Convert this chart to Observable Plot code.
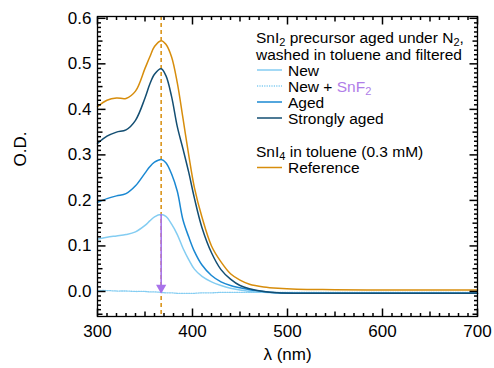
<!DOCTYPE html>
<html>
<head>
<meta charset="utf-8">
<script src="https://cdn.jsdelivr.net/npm/d3@7"></script>
<script src="https://cdn.jsdelivr.net/npm/@observablehq/plot@0.6"></script>
<style>
  html, body { margin: 0; padding: 0; background: #fff; }
  #chart { width: 494px; height: 368px; }
</style>
</head>
<body>
<div id="chart"></div>
<script>
// Wavelengths (nm)
const lam = [300,310,320,330,340,350,355,360,367,372,378,384,390,396,402,410,420,430,440,450,460,475,490,510,550,600,650,700];
// Optical density per series
const odNew = [0.115,0.119,0.122,0.125,0.131,0.145,0.155,0.164,0.169,0.165,0.148,0.125,0.095,0.070,0.049,0.033,0.021,0.013,0.007,0.003,0.000,-0.002,-0.003,-0.004,-0.004,-0.004,-0.004,-0.004];
const odNewSnF2 = [0.002,0.002,0.001,0.001,0.000,0.000,-0.001,-0.001,-0.002,-0.003,-0.003,-0.004,-0.004,-0.004,-0.004,-0.003,-0.003,-0.002,-0.002,-0.002,-0.002,-0.002,-0.002,-0.002,-0.002,-0.002,-0.002,-0.002];
const odAged = [0.196,0.204,0.210,0.215,0.232,0.260,0.274,0.284,0.290,0.283,0.258,0.220,0.157,0.120,0.088,0.058,0.035,0.021,0.013,0.008,0.004,0.000,-0.003,-0.004,-0.004,-0.004,-0.004,-0.004];
const odStrong = [0.325,0.341,0.350,0.355,0.376,0.425,0.455,0.477,0.489,0.474,0.428,0.362,0.313,0.262,0.205,0.140,0.085,0.048,0.027,0.013,0.006,0.000,-0.003,-0.004,-0.004,-0.004,-0.004,-0.004];
const odRef = [0.406,0.420,0.425,0.424,0.440,0.490,0.515,0.538,0.551,0.543,0.515,0.458,0.380,0.300,0.228,0.163,0.100,0.065,0.039,0.025,0.016,0.010,0.007,0.005,0.004,0.003,0.003,0.003];

const seriesNames = ["New", "New + SnF2", "Aged", "Strongly aged", "Reference"];
const seriesValues = [odNew, odNewSnF2, odAged, odStrong, odRef];
const peakLam = 367;
const newPeak = 0.169;
const arrowEnd = 0.010;

const xTicks = [300,400,500,600,700];
const yTicks = [0.0,0.1,0.2,0.3,0.4,0.5,0.6];
const xDomain = [300, 700];
const yDomain = [-0.055, 0.604];

const colors = {
  "New": "#84cdf2",
  "New + SnF2": "#84cdf2",
  "Aged": "#1a88d2",
  "Strongly aged": "#134e72",
  "Reference": "#d78d0c"
};
const purple = "#a872ea";

const rows = [];
seriesNames.forEach((s, i) => {
  lam.forEach((l, j) => rows.push({series: s, lam: l, od: seriesValues[i][j]}));
});

const W = 494, H = 368, mL = 97, mR = 17, mT = 16, mB = 52;
const iw = W - mL - mR, ih = H - mT - mB;
const FONT = "'Liberation Sans', Arial, Helvetica, sans-serif";

// tick lengths expressed in data units (pixels -> data span)
const xPerPx = (xDomain[1] - xDomain[0]) / iw;
const yPerPx = (yDomain[1] - yDomain[0]) / ih;

const xMid = d3.range(350, 700, 100);
const xMinor = d3.range(300, 701, 10).filter(v => v % 50 !== 0);
const yAll = d3.range(-50, 601, 10).map(v => v / 1000);
const yMid = d3.range(-50, 601, 100).map(v => v / 1000);
const yMinor = yAll.filter(v => Math.round(v * 1000) % 50 !== 0);

const tickSegs = [];
function xTickSet(vals, len) {
  vals.forEach(v => {
    tickSegs.push({x1: v, x2: v, y1: yDomain[0], y2: yDomain[0] + len * yPerPx});
    tickSegs.push({x1: v, x2: v, y1: yDomain[1], y2: yDomain[1] - len * yPerPx});
  });
}
function yTickSet(vals, len) {
  vals.forEach(v => {
    tickSegs.push({y1: v, y2: v, x1: xDomain[0], x2: xDomain[0] + len * xPerPx});
    tickSegs.push({y1: v, y2: v, x1: xDomain[1], x2: xDomain[1] - len * xPerPx});
  });
}
xTickSet(xTicks, 8); xTickSet(xMid, 5); xTickSet(xMinor, 3.5);
yTickSet(yTicks, 8); yTickSet(yMid, 5); yTickSet(yMinor, 3.5);

const chart = Plot.plot({
  width: W, height: H,
  marginLeft: mL, marginRight: mR, marginTop: mT, marginBottom: mB,
  style: {fontFamily: FONT, background: "#fff", color: "#000"},
  x: {domain: xDomain},
  y: {domain: yDomain},
  marks: [
    Plot.ruleX([peakLam], {stroke: "#d78d0c", strokeWidth: 1.5, strokeDasharray: "4,3"}),
    Plot.line(rows.filter(d => d.series === "New + SnF2"), {x: "lam", y: "od", stroke: colors["New + SnF2"], strokeWidth: 1.3, strokeDasharray: "1.2,1.2", curve: "catmull-rom"}),
    ...["New", "Aged", "Strongly aged", "Reference"].map(s =>
      Plot.line(rows.filter(d => d.series === s), {x: "lam", y: "od", stroke: colors[s], strokeWidth: 1.5, curve: "catmull-rom"})
    ),
    Plot.ruleX([{x: peakLam, y1: newPeak, y2: arrowEnd}], {x: "x", y1: "y1", y2: "y2", stroke: purple, strokeWidth: 1.6}),
    Plot.dot([{x: peakLam, y: 0.008}], {x: "x", y: "y", symbol: "triangle", r: 3.8, fill: purple, stroke: "none", rotate: 180}),
    Plot.frame({stroke: "#000", strokeWidth: 1.3}),
    Plot.link(tickSegs, {x1: "x1", y1: "y1", x2: "x2", y2: "y2", stroke: "#000", strokeWidth: 1.5}),
    Plot.axisX({ticks: xTicks, tickSize: 0, tickPadding: 8, fontSize: 17, label: null, tickFormat: d => String(d)}),
    Plot.axisY({ticks: yTicks, tickSize: 0, tickPadding: 6, fontSize: 17, label: null, tickFormat: d3.format(".1f")}),
    Plot.text(["O.D."], {frameAnchor: "left", dx: -77, rotate: -90, fontSize: 17, text: d => d}),
    Plot.text(["λ (nm)"], {frameAnchor: "bottom", dy: 43, fontSize: 17, text: d => d})
  ]
});

const svg = d3.select(chart);

// Legend
const lg = svg.append("g")
  .attr("font-family", FONT)
  .attr("font-size", 15.5)
  .attr("text-anchor", "start")
  .attr("fill", "#000");

function addText(x, y, parts) {
  const t = lg.append("text").attr("x", x).attr("y", y).attr("text-anchor", "start");
  let shifted = false;
  parts.forEach(p => {
    const ts = t.append("tspan").text(p.t);
    if (p.fill) ts.attr("fill", p.fill);
    if (p.sub) { ts.attr("font-size", 11).attr("dy", 3); shifted = true; }
    else if (shifted) { ts.attr("dy", -3); shifted = false; }
  });
}

addText(256, 43, [{t: "SnI"}, {t: "2", sub: true}, {t: " precursor aged under N"}, {t: "2", sub: true}, {t: ","}]);
addText(256, 59.5, [{t: "washed in toluene and filtered"}]);

const items = [
  {name: "New", y: 75.5, parts: [{t: "New"}]},
  {name: "New + SnF2", y: 91.5, parts: [{t: "New + "}, {t: "SnF", fill: "#b07de8"}, {t: "2", sub: true, fill: "#b07de8"}]},
  {name: "Aged", y: 107.5, parts: [{t: "Aged"}]},
  {name: "Strongly aged", y: 123.5, parts: [{t: "Strongly aged"}]},
  {name: "Reference", y: 173, parts: [{t: "Reference"}]}
];
items.forEach(it => {
  lg.append("line")
    .attr("x1", 257).attr("x2", 282)
    .attr("y1", it.y - 5.5).attr("y2", it.y - 5.5)
    .attr("stroke", colors[it.name])
    .attr("stroke-width", 1.5)
    .attr("stroke-dasharray", it.name === "New + SnF2" ? "1.2,1.2" : null);
  addText(288, it.y, it.parts);
});
addText(256, 157, [{t: "SnI"}, {t: "4", sub: true}, {t: " in toluene (0.3 mM)"}]);

document.getElementById("chart").appendChild(chart);
</script>
</body>
</html>
